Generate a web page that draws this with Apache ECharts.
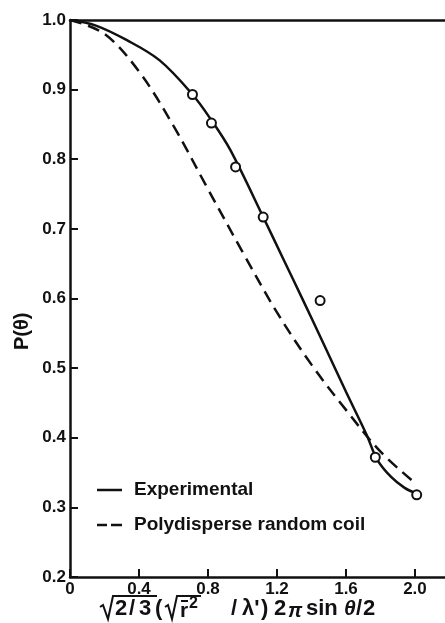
<!DOCTYPE html>
<html>
<head>
<meta charset="utf-8">
<script src="https://cdn.jsdelivr.net/npm/echarts@6/dist/echarts.min.js"></script>
<style>
  html, body { margin: 0; padding: 0; background: #fff; }
  #main { width: 445px; height: 623px; }
</style>
</head>
<body>
<div id="main"></div>
<script>
    // measured points (open circles)
    var pointX = [0.71, 0.82, 0.96, 1.12, 1.45, 1.77, 2.01];
    var pointY = [0.893, 0.852, 0.789, 0.717, 0.597, 0.372, 0.318];

    // experimental curve (solid)
    var expX = [0, 0.15, 0.33, 0.52, 0.71, 0.82, 0.93, 1.12, 1.24, 1.35, 1.47, 1.6, 1.72, 1.78, 1.86, 1.94, 2.0];
    var expY = [1.0, 0.992, 0.971, 0.942, 0.893, 0.856, 0.813, 0.717, 0.655, 0.598, 0.535, 0.466, 0.404, 0.369, 0.344, 0.328, 0.321];

    // polydisperse random coil (dashed)
    var coilX = [0, 0.2, 0.4, 0.6, 0.8, 1.0, 1.2, 1.4, 1.6, 1.8, 2.0];
    var coilY = [1.0, 0.980, 0.926, 0.848, 0.757, 0.667, 0.580, 0.505, 0.440, 0.380, 0.335];

    var yTicks = [0.2, 0.3, 0.4, 0.5, 0.6, 0.7, 0.8, 0.9, 1.0];
    var xTicks = [0, 0.4, 0.8, 1.2, 1.6, 2.0];

    var legendNames = ['Experimental', 'Polydisperse random coil'];

    var font = 'Liberation Sans';
    var ink = '#111';

    function pairs(xs, ys) {
        var out = [];
        for (var i = 0; i < xs.length; i++) {
            out.push([xs[i], ys[i]]);
        }
        return out;
    }

    function txt(x, y, s, size, italic) {
        return {
            type: 'text', x: x, y: y,
            style: {
                text: s,
                font: (italic ? 'italic ' : '') + 'bold ' + size + 'px ' + font,
                fill: ink,
                verticalAlign: 'middle'
            }
        };
    }

    function seg(points, w) {
        return {
            type: 'polyline',
            shape: { points: points },
            style: { stroke: ink, lineWidth: w || 2, fill: null }
        };
    }

    var myChart = echarts.init(document.getElementById('main'));

    // x axis title, built from pieces so the radical bars can be drawn
    var ty = 609;
    var xTitle = [
        seg([[100, 607], [103, 605], [108, 619], [113, 596], [157, 596]]),
        txt(115, ty, '2', 22),
        txt(129, ty, '/', 22),
        txt(139, ty, '3', 22),
        txt(155, ty, '(', 22),
        seg([[165, 607], [168, 605], [172, 619], [177, 596], [201, 596]]),
        txt(180, 611, 'r', 21),
        seg([[181, 601], [188, 601]]),
        txt(189, 604, '2', 16),
        txt(231, ty, '/', 22),
        txt(242, ty, '\u03BB\'', 22),
        txt(261, ty, ')', 22),
        txt(274, ty, '2', 22),
        txt(288, 611, '\u03C0', 20, true),
        txt(306, ty, 'sin', 22),
        txt(344, ty, '\u03B8', 21, true),
        txt(356, ty, '/', 22),
        txt(363, ty, '2', 22)
    ];

    // legend drawn by hand so the dashed sample looks like the figure
    var legend = [
        seg([[97, 490], [122, 490]], 2.5),
        txt(134, 490, legendNames[0], 19),
        seg([[97, 525], [107, 525]], 2.5),
        seg([[111, 525], [122, 525]], 2.5),
        txt(134, 525, legendNames[1], 19)
    ];

    var yTitle = {
        type: 'text',
        x: 12,
        y: 350,
        rotation: Math.PI / 2,
        style: { text: 'P(\u03B8)', font: 'bold 20px ' + font, fill: ink }
    };

    var option = {
        animation: false,
        backgroundColor: '#fff',
        grid: { left: 70, right: 0, top: 20, bottom: 46 },
        xAxis: [{
            type: 'value',
            min: 0,
            max: 2.174,
            interval: 0.4,
            axisLine: { lineStyle: { color: ink, width: 2.5 } },
            axisTick: { inside: true, length: 8, lineStyle: { color: ink, width: 2 } },
            splitLine: { show: false },
            axisLabel: {
                showMaxLabel: false,
                margin: 4,
                color: ink,
                fontFamily: font,
                fontSize: 17,
                fontWeight: 'bold',
                formatter: function (v) {
                    for (var i = 0; i < xTicks.length; i++) {
                        if (Math.abs(v - xTicks[i]) < 1e-6) {
                            return v === 0 ? '0' : v.toFixed(1);
                        }
                    }
                    return '';
                }
            }
        }, {
            type: 'value',
            position: 'top',
            min: 0,
            max: 2.174,
            axisLine: { lineStyle: { color: ink, width: 2.5 } },
            axisTick: { show: false },
            axisLabel: { show: false },
            splitLine: { show: false }
        }],
        yAxis: {
            type: 'value',
            min: 0.2,
            max: 1.0,
            interval: 0.1,
            axisLine: { lineStyle: { color: ink, width: 2.5 } },
            axisTick: { inside: true, length: 8, lineStyle: { color: ink, width: 2 } },
            splitLine: { show: false },
            axisLabel: {
                margin: 4,
                color: ink,
                fontFamily: font,
                fontSize: 17,
                fontWeight: 'bold',
                formatter: function (v) {
                    for (var i = 0; i < yTicks.length; i++) {
                        if (Math.abs(v - yTicks[i]) < 1e-6) return yTicks[i].toFixed(1);
                    }
                    return '';
                }
            }
        },
        graphic: xTitle.concat(legend).concat([yTitle]),
        series: [{
            name: legendNames[0],
            type: 'line',
            smooth: 0.35,
            symbol: 'none',
            data: pairs(expX, expY),
            lineStyle: { color: ink, width: 2.5 },
            z: 2
        }, {
            name: legendNames[1],
            type: 'line',
            smooth: 0.35,
            symbol: 'none',
            data: pairs(coilX, coilY),
            lineStyle: { color: ink, width: 2.5, type: [12, 7] },
            z: 2
        }, {
            name: 'Data',
            type: 'scatter',
            symbol: 'circle',
            symbolSize: 9,
            data: pairs(pointX, pointY),
            itemStyle: { color: '#fff', borderColor: ink, borderWidth: 2, opacity: 1 },
            z: 5
        }]
    };

    myChart.setOption(option);
</script>
</body>
</html>
